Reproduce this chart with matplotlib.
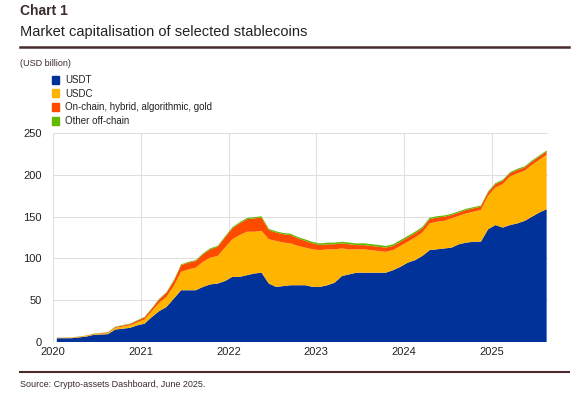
import matplotlib.pyplot as plt
import numpy as np

usdt = [4.6, 4.6, 4.6, 5.5, 6.5, 8.5, 9, 9.5, 15, 16, 17, 20,
        22, 30, 37, 42, 52, 62, 62, 62, 66, 69, 70, 73,
        78, 78, 80, 82, 83, 70, 66, 67, 68, 68, 68, 66,
        66, 68, 71, 79, 81, 83, 83, 83, 83, 83, 86, 90,
        95, 98, 103, 110, 111, 112, 113, 117, 119, 120, 120, 135,
        140, 137, 140, 142, 145, 150, 155, 159]
usdc = [0.4, 0.4, 0.5, 0.7, 0.7, 0.8, 1, 1.2, 2, 2.5, 3, 3.5,
        5, 7, 10, 12, 15, 22, 25, 27, 30, 32, 33, 40,
        45, 50, 52, 50, 50, 53, 55, 52, 50, 47, 45, 45,
        44, 43, 40, 33, 30, 28, 28, 27, 26, 25, 24, 25,
        25, 27, 28, 32, 33, 33, 35, 34, 35, 36, 38, 40,
        45, 52, 58, 60, 60, 62, 63, 65]
onchain = [0.2, 0.2, 0.3, 0.3, 0.4, 0.5, 0.6, 0.8, 1, 1.2, 1.5, 2,
           2.5, 3, 4, 5, 6, 8, 8, 8, 9, 10, 11, 12,
           13, 14, 15, 16, 16, 11, 10, 10, 10, 9, 8, 7,
           6, 6, 6, 6, 6, 5, 5, 5, 5, 5, 5, 5,
           5, 5, 5, 5, 5, 5, 4, 4, 4, 4, 4, 4,
           4, 4, 4, 4, 4, 4, 4, 4]
other = [0.1, 0.1, 0.1, 0.2, 0.2, 0.3, 0.3, 0.4, 0.5, 0.5, 0.5, 0.6,
         0.6, 0.7, 0.8, 0.8, 1, 1, 1, 1, 1.2, 1.2, 1.2, 1.3,
         1.3, 1.4, 1.4, 1.5, 1.5, 1.5, 1.5, 1.5, 1.6, 1.6, 1.8, 1.8,
         2, 2, 2, 2, 2, 2, 2.2, 2.2, 2.2, 2, 2, 2,
         2, 2, 1.8, 1.8, 1.6, 1.5, 1.5, 1.5, 1.5, 1.4, 1.4, 1.4,
         1.3, 1.3, 1.3, 1.3, 1.3, 1.3, 1.3, 1.3]
labels = ["USDT", "USDC", "On-chain, hybrid, algorithmic, gold", "Other off-chain"]
colors = ["#003299", "#FFB400", "#FF4B00", "#65B800"]

x = 2020 + np.arange(len(usdt)) / 12 + 1 / 24

plt.rcParams['font.family'] = ['Liberation Sans', 'DejaVu Sans']
fig = plt.figure(figsize=(5.78, 4.01), dpi=100)
ax = fig.add_axes([0.092, 0.147, 0.856, 0.521])
ax.stackplot(x, usdt, usdc, onchain, other, colors=colors, linewidth=0)
ax.set_xlim(2020, 2025.64)
ax.set_ylim(0, 250)
ax.set_xticks(range(2020, 2026))
ax.set_yticks(range(0, 251, 50))
ax.grid(color='#dddddd', linewidth=0.7)
ax.set_axisbelow(True)
for s in ax.spines.values():
    s.set_visible(False)
ax.tick_params(length=0, labelsize=8, colors='#222222')
ax.tick_params(axis='y', pad=8)

fig.text(0.035, 0.962, "Chart 1", fontsize=10, fontweight='bold', color='#3b2b2b')
fig.text(0.035, 0.91, "Market capitalisation of selected stablecoins", fontsize=10.5, color='#222222')
fig.add_artist(plt.Line2D([0.035, 0.985], [0.882, 0.882], color='#4b2a2e', linewidth=1.8))
fig.text(0.035, 0.835, "(USD billion)", fontsize=6.5, color='#3b2b2b')
for i, (lab, c) in enumerate(zip(labels, colors)):
    y = 0.795 - i * 0.034
    fig.patches.append(plt.Rectangle((0.09, y - 0.004), 0.012, 0.02, color=c, transform=fig.transFigure))
    fig.text(0.113, y - 0.002, lab, fontsize=7, color='#222222')
fig.add_artist(plt.Line2D([0.035, 0.985], [0.072, 0.072], color='#4b2a2e', linewidth=1.5))
fig.text(0.035, 0.035, "Source: Crypto-assets Dashboard, June 2025.", fontsize=6.5, color='#3b2b2b')
fig.savefig("out.png", dpi=100)
